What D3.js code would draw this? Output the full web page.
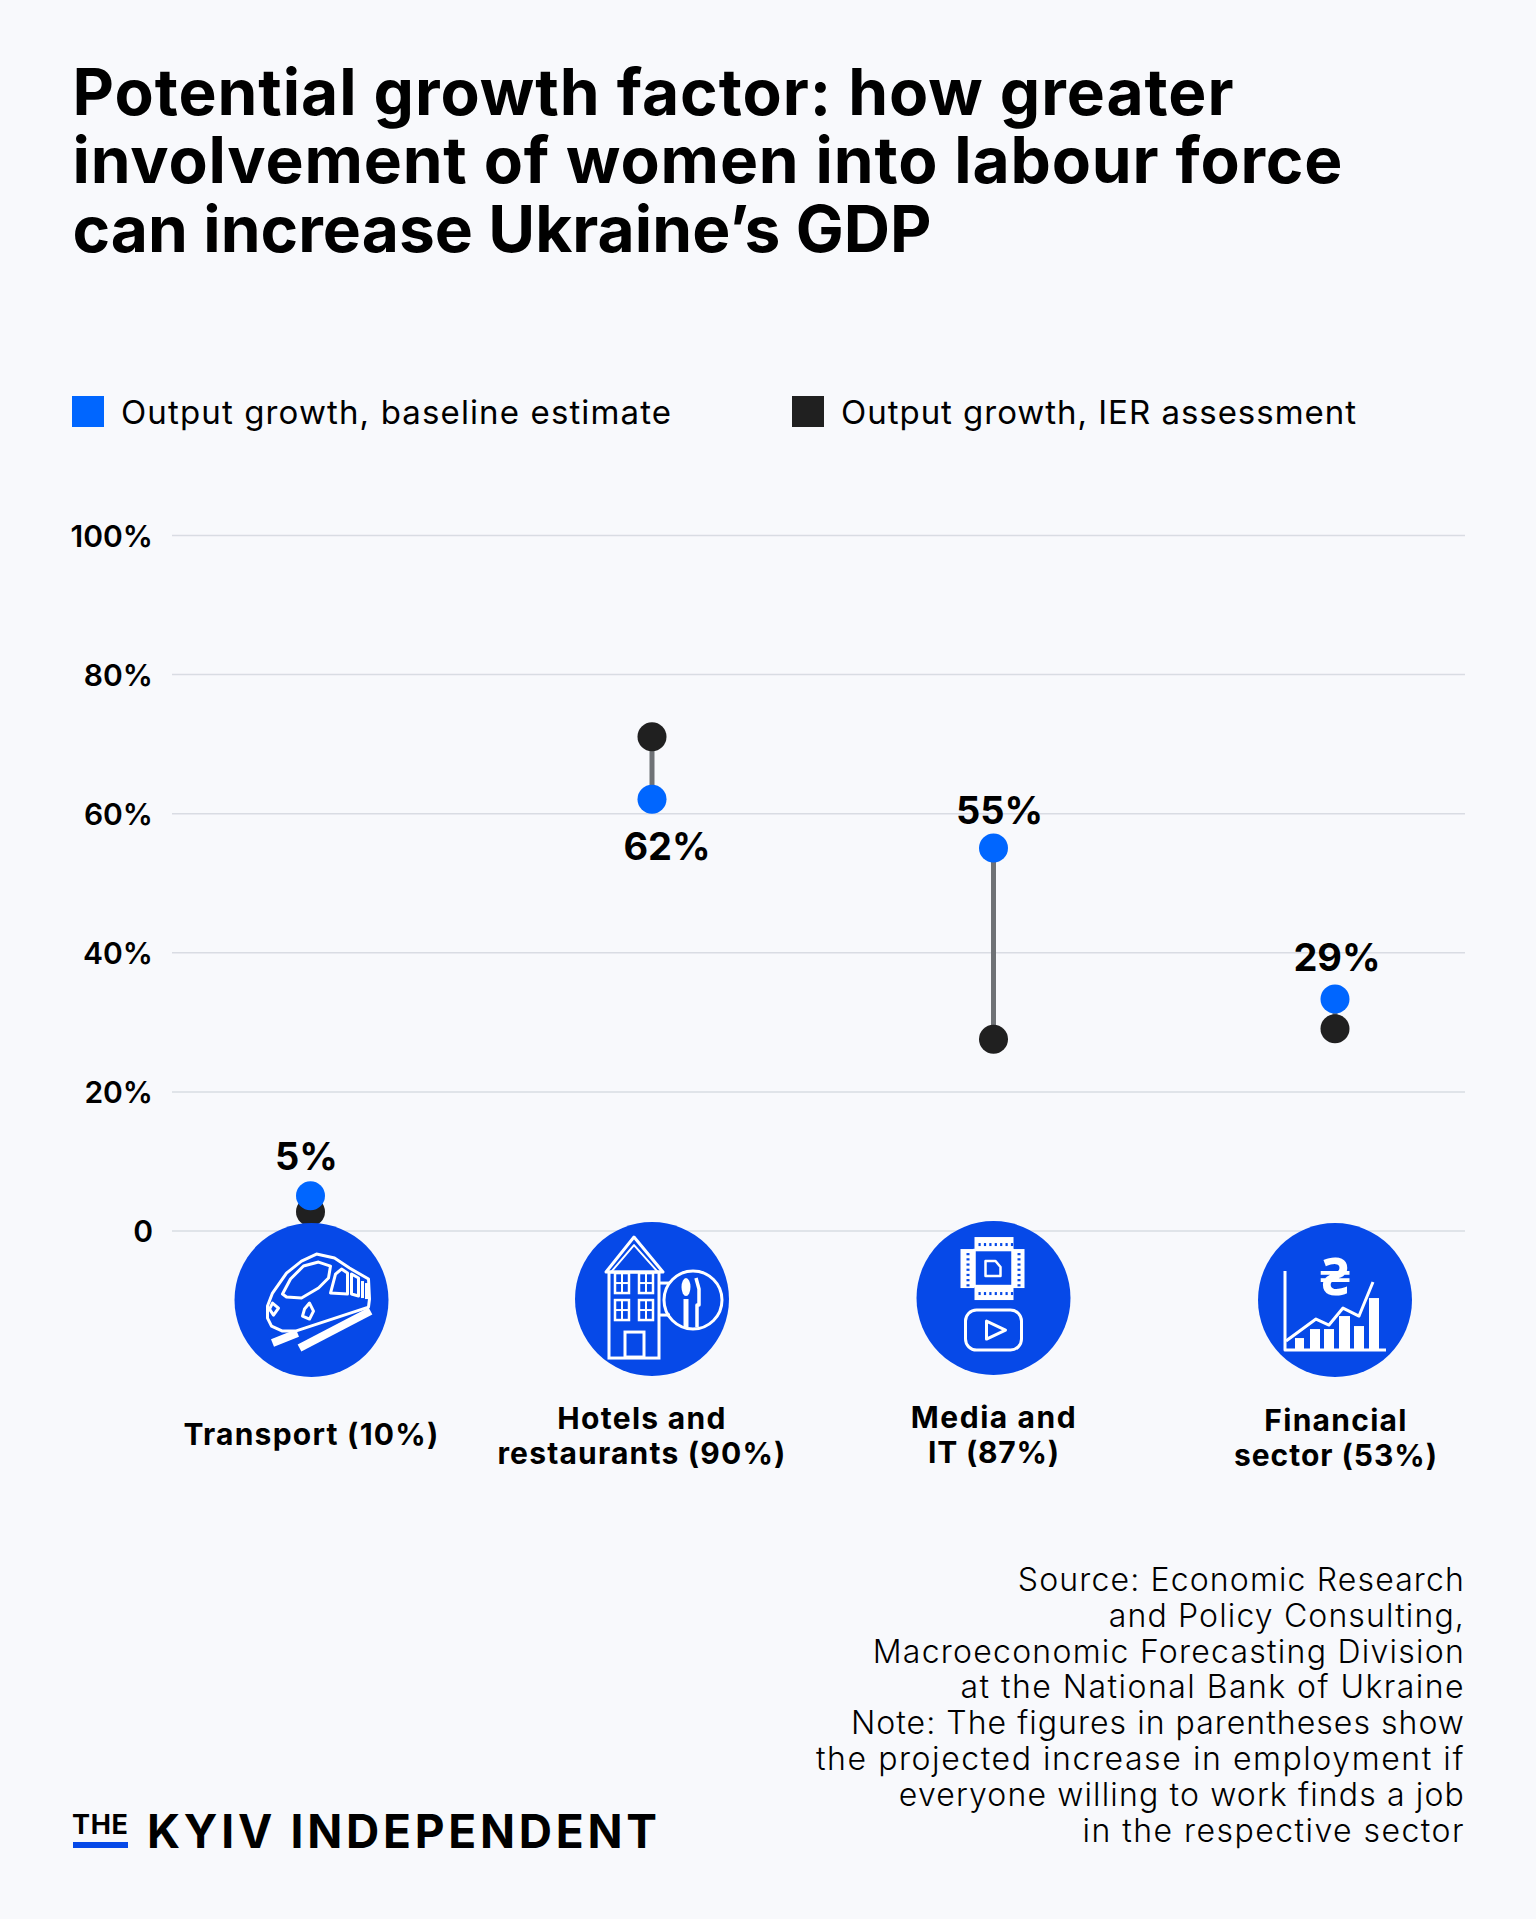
<!DOCTYPE html>
<html>
<head>
<meta charset="utf-8">
<script src="https://cdn.jsdelivr.net/npm/d3@7/dist/d3.min.js"></script>
<style>
  html, body { margin: 0; padding: 0; background: #f8f9fc; }
  svg { display: block; }
  text { fill: #000; font-family: Inter, "Noto Sans", sans-serif; }
</style>
</head>
<body>
<svg id="chart" width="1536" height="1919"></svg>
<script>
// Chart content
const titleLines = [
  "Potential growth factor: how greater",
  "involvement of women into labour force",
  "can increase Ukraine\u2019s GDP"
];
const categories = ["Transport", "Hotels", "Media", "Financial"];
const categoryLabels = [
  ["Transport (10%)"],
  ["Hotels and", "restaurants (90%)"],
  ["Media and", "IT (87%)"],
  ["Financial", "sector (53%)"]
];
const baselineValues = [5, 62, 55, 33.3];
const ierValues = [2.7, 71, 27.5, 29];
const valueLabels = ["5%", "62%", "55%", "29%"];
const yTicks = [0, 20, 40, 60, 80, 100];
const legendLabels = ["Output growth, baseline estimate", "Output growth, IER assessment"];
const sourceLines = [
  "Source: Economic Research",
  "and Policy Consulting,",
  "Macroeconomic Forecasting Division",
  "at the National Bank of Ukraine",
  "Note: The figures in parentheses show",
  "the projected increase in employment if",
  "everyone willing to work finds a job",
  "in the respective sector"
];

// Palette
const BLUE = "#0066ff", BLACK = "#202020", ICON_BLUE = "#0649e8", STEM = "#6f7276", GRID = "#d9dce3";

const svg = d3.select("#chart");
const y = d3.scaleLinear().domain([0, 100]).range([1230.5, 535]);
const x = d3.scalePoint().domain(categories).range([310.5, 1335]);

// Sets a text's letter spacing so that it spans the requested width
function fit(sel, width) {
  sel.each(function () {
    const t = d3.select(this).attr("letter-spacing", 0);
    const n = this.getNumberOfChars();
    const w = this.getComputedTextLength();
    t.attr("letter-spacing", (width - w) / Math.max(1, n - 1));
  });
  return sel;
}

// Title
const titleWidths = [1161, 1270, 859];
svg.append("g").selectAll("text").data(titleLines).join("text")
  .attr("x", 72.5)
  .attr("y", (d, i) => 115 + i * 68.3)
  .attr("font-size", 64).attr("font-weight", 700)
  .text(d => d)
  .call(s => s.each(function (d, i) { fit(d3.select(this), titleWidths[i]); }));

// Legend
const legend = svg.append("g");
[[72, BLUE, 121, 550], [792, BLACK, 841, 515]].forEach(([sx, color, tx, tw], i) => {
  legend.append("rect").attr("x", sx).attr("y", 396).attr("width", 32).attr("height", 31).attr("fill", color);
  fit(legend.append("text").attr("x", tx).attr("y", 424)
    .attr("font-size", 33).attr("font-weight", 400).text(legendLabels[i]), tw);
});

// Value axis with gridlines
const axis = svg.append("g").attr("transform", "translate(172,0)")
  .call(d3.axisLeft(y).tickValues(yTicks).tickSize(-1293).tickPadding(19)
    .tickFormat(d => d === 0 ? "0" : d + "%"));
axis.select(".domain").remove();
axis.selectAll("line").attr("stroke", GRID).attr("stroke-width", 1.5);
axis.selectAll("text")
  .attr("font-family", "Inter").attr("font-size", 30).attr("font-weight", 600)
  .attr("fill", "#000").attr("text-anchor", "end").attr("dy", "0.37em");

// Stems and dots
const rows = categories.map((c, i) => ({ c, i, base: baselineValues[i], ier: ierValues[i], label: valueLabels[i] }));
svg.append("g").selectAll("line").data(rows).join("line")
  .attr("x1", d => x(d.c)).attr("x2", d => x(d.c))
  .attr("y1", d => y(d.base)).attr("y2", d => y(d.ier))
  .attr("stroke", STEM).attr("stroke-width", 5);
svg.append("g").selectAll("circle").data(rows).join("circle")
  .attr("cx", d => x(d.c)).attr("cy", d => y(d.ier)).attr("r", 14.5).attr("fill", BLACK);
svg.append("g").selectAll("circle").data(rows).join("circle")
  .attr("cx", d => x(d.c)).attr("cy", d => y(d.base)).attr("r", 14.5).attr("fill", BLUE);

// Value labels, placed relative to the blue dot
const labelOffset = [[-4, -39], [15, 47], [6, -38], [2, -42]];
svg.append("g").selectAll("text").data(rows).join("text")
  .attr("x", d => x(d.c) + labelOffset[d.i][0])
  .attr("y", d => y(d.base) + labelOffset[d.i][1])
  .attr("dy", "0.36em").attr("text-anchor", "middle")
  .attr("font-size", 38).attr("font-weight", 700)
  .text(d => d.label);

// Sector icons: white line drawings inside blue discs
const iconY = y(-10);
const iconDx = [1, 0, 0, 0];
const icons = svg.append("g").selectAll("g").data(rows).join("g")
  .attr("transform", d => `translate(${x(d.c) + iconDx[d.i]},${iconY})`);
icons.append("circle").attr("r", 77).attr("fill", ICON_BLUE);
const line = (g, pts, close, w = 3) => g.append("path")
  .attr("d", "M" + pts.map(p => p.join(",")).join("L") + (close ? "Z" : ""))
  .attr("fill", "none").attr("stroke", "#fff").attr("stroke-width", w).attr("stroke-linejoin", "round");
const box = (g, x0, y0, x1, y1, w = 3, r = 0) => g.append("rect")
  .attr("x", x0).attr("y", y0).attr("width", x1 - x0).attr("height", y1 - y0).attr("rx", r)
  .attr("fill", "none").attr("stroke", "#fff").attr("stroke-width", w);
const solid = (g, x0, y0, x1, y1, fill = "#fff") => g.append("rect")
  .attr("x", x0).attr("y", y0).attr("width", x1 - x0).attr("height", y1 - y0).attr("fill", fill);

// Train
const train = icons.filter(d => d.i === 0);
line(train, [[-39, 43], [-14, 33]], false, 8);
line(train, [[-12, 48], [59, 11]], false, 8);
line(train, [[-44, 6], [-39, -7], [-25, -27], [-10, -39], [5, -46], [23, -42], [38, -32], [57, -21], [58, -1], [57, 7], [-16, 31], [-29, 31], [-40, 26], [-44, 18]], true).attr("fill", ICON_BLUE);
line(train, [[-29, -6], [-21, -21], [-8, -34], [7, -38], [19, -34], [17, -22], [7, -12], [-10, -2], [-25, -3]], true);
line(train, [[19, -7], [24, -26], [30, -31], [36, -27], [36, -6]], true);
line(train, [[40, -26], [40, -6], [47, -4], [47, -22]], true);
line(train, [[51, -19], [51, -2]], false);
line(train, [[55, -17], [55, -1]], false);
line(train, [[-39, 3], [-33, 8], [-38, 15], [-42, 9]], true);
line(train, [[-2, 3], [2, 11], [-2, 19], [-9, 16], [-7, 9]], true);

// Hotel with a restaurant sign
const hotel = icons.filter(d => d.i === 1).attr("transform", d => `translate(${x(d.c)},${iconY - 1})`);
box(hotel, -43, -27, 7, 59);
line(hotel, [[-46, -27], [-18, -62], [11, -27]], true);
line(hotel, [[-41, -27], [-18, -54], [6, -27]], false, 2);
[[-37, -26], [-13, -26], [-37, 1], [-13, 1]].forEach(([wx, wy]) => {
  box(hotel, wx, wy, wx + 14, wy + 20, 2.5);
  line(hotel, [[wx + 7, wy], [wx + 7, wy + 20]], false, 2);
  line(hotel, [[wx, wy + 10], [wx + 14, wy + 10]], false, 2);
});
box(hotel, -27, 33, -8, 58);
line(hotel, [[7, -16], [18, -16]], false);
line(hotel, [[7, 16], [18, 16]], false);
hotel.append("circle").attr("cx", 41).attr("cy", 1).attr("r", 29)
  .attr("fill", "none").attr("stroke", "#fff").attr("stroke-width", 3);
line(hotel, [[34, 0], [34, 28]], false, 5);
hotel.append("ellipse").attr("cx", 34).attr("cy", -12).attr("rx", 4.5).attr("ry", 9).attr("fill", "#fff");
line(hotel, [[44, -21], [47, -10], [47, 6], [45, 6], [45, 28]], false, 3.5);

// Chip and video player
const media = icons.filter(d => d.i === 2).attr("transform", d => `translate(${x(d.c)},${iconY - 2})`);
solid(media, -19, -61, 20, -48);
solid(media, -19, -12, 20, 2);
solid(media, -33, -49, -19, -10);
solid(media, 19, -49, 31, -10);
d3.range(7).forEach(k => {
  const p = -15 + k * 5.4;
  solid(media, p, -55, p + 2.2, -52, ICON_BLUE);
  solid(media, p, -6, p + 2.2, -3, ICON_BLUE);
  const q = -45 + k * 5.2;
  solid(media, -27, q, -24, q + 2.2, ICON_BLUE);
  solid(media, 24, q, 27, q + 2.2, ICON_BLUE);
});
box(media, -19, -48, 19, -12, 2.5).attr("fill", ICON_BLUE);
line(media, [[-8, -37], [2, -37], [7, -31], [7, -22], [-8, -22]], true, 2.5);
box(media, -28, 12, 28, 52, 3, 11);
line(media, [[-7, 23], [12, 32], [-7, 41]], true, 3);

// Chart with a hryvnia sign
const finance = icons.filter(d => d.i === 3);
line(finance, [[-50, -29], [-50, 50], [51, 50]], false, 3);
[[-40, -31, 38], [-25, -15, 29], [-11, -1, 29], [4, 15, 16], [19, 29, 26], [34, 44, -2]]
  .forEach(([a, b, top]) => solid(finance, a, top, b, 49));
line(finance, [[-49, 41], [-19, 19], [-6, 25], [8, 8], [24, 16], [38, -18]], false, 3);
finance.append("text").attr("y", -24).attr("dy", "0.36em").attr("text-anchor", "middle")
  .attr("font-family", "Noto Sans").attr("font-weight", 700).attr("font-size", 52)
  .style("font-family", "'Noto Sans', 'DejaVu Sans'").style("fill", "#fff").text("\u20B4");

// Category captions
const captionCenter = [310.5, 641, 993, 1335];
const captionBaseline = [1445, 1429, 1428, 1431];
const captionWidths = [[255], [168, 288], [165, 131], [142, 203]];
categoryLabels.forEach((lines, i) => {
  lines.forEach((t, k) => {
    fit(svg.append("text")
      .attr("x", captionCenter[i] + 1).attr("y", captionBaseline[i] + k * 34.5)
      .attr("text-anchor", "middle").attr("font-size", 30).attr("font-weight", 700)
      .text(t), captionWidths[i][k]);
  });
});

// Source note, each line set to its own measure
const sourceWidths = [446, 355, 591, 503, 613, 647.5, 565, 381];
svg.append("g").selectAll("text").data(sourceLines).join("text")
  .attr("x", 1465).attr("y", (d, i) => 1591 + i * 35.8)
  .attr("text-anchor", "end").attr("font-size", 32).attr("font-weight", 300)
  .text(d => d)
  .call(s => s.each(function (d, i) { fit(d3.select(this), sourceWidths[i]); }));

// Publisher wordmark
const logo = svg.append("g");
fit(logo.append("text").attr("x", 72).attr("y", 1834)
  .attr("font-family", "Roboto").attr("font-size", 27).attr("font-weight", 700).text("THE"), 56);
logo.append("rect").attr("x", 73).attr("y", 1842).attr("width", 55).attr("height", 6).attr("fill", ICON_BLUE);
fit(logo.append("text").attr("x", 147).attr("y", 1848)
  .style("font-family", "Inter").attr("font-size", 46).attr("font-weight", 700).text("KYIV INDEPENDENT"), 510);
</script>
</body>
</html>
